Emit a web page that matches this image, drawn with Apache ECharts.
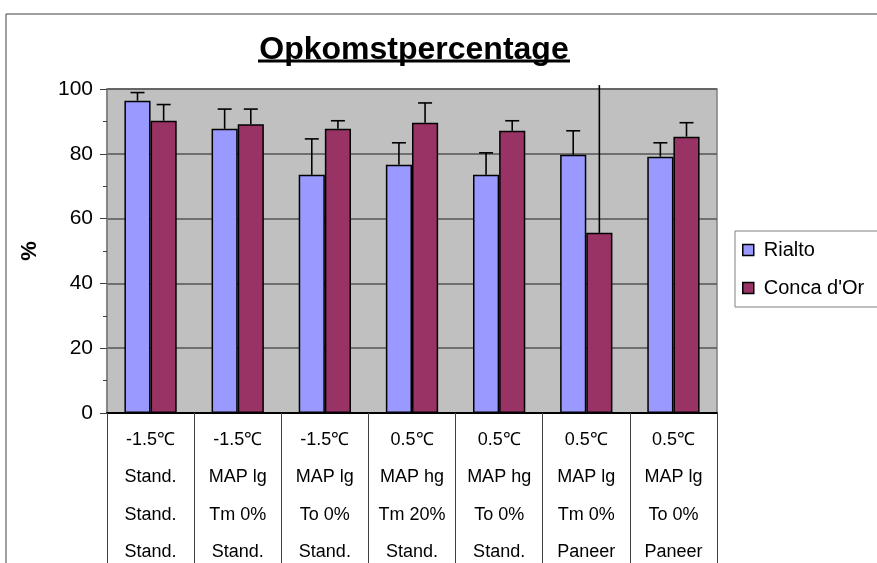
<!DOCTYPE html>
<html>
<head>
<meta charset="utf-8">
<script src="https://cdn.jsdelivr.net/npm/echarts@6/dist/echarts.min.js"></script>
<style>html,body{margin:0;padding:0;background:#fff;}#c{width:877px;height:563px;}</style>
</head>
<body>
<div id="c"></div>
<script>
const categories = [
  "-1.5℃\nStand.\nStand.\nStand.",
  "-1.5℃\nMAP lg\nTm 0%\nStand.",
  "-1.5℃\nMAP lg\nTo 0%\nStand.",
  "0.5℃\nMAP hg\nTm 20%\nStand.",
  "0.5℃\nMAP hg\nTo 0%\nStand.",
  "0.5℃\nMAP lg\nTm 0%\nPaneer",
  "0.5℃\nMAP lg\nTo 0%\nPaneer"
];
const seriesNames = ["Rialto", "Conca d'Or"];
const rialto = [96.4, 87.7, 73.5, 76.6, 73.5, 79.7, 79.1];
const rialtoErr = [2.5, 6.1, 11.1, 6.8, 6.8, 7.4, 4.3];
const conca = [90.2, 89.1, 87.7, 89.6, 87.1, 55.6, 85.3];
const concaErr = [5.0, 4.7, 2.5, 6.1, 3.1, 45.6, 4.3];
const yTicks = { min: 0, max: 100, interval: 20 };

const FONT = "'Liberation Sans', Arial, sans-serif";
const chart = echarts.init(document.getElementById('c'), null, { renderer: 'canvas' });

function errSeries(values, errs, idx) {
  return {
    type: 'custom',
    silent: true,
    z: 5,
    data: values.map((v, i) => [i, v, errs[i]]),
    renderItem: function (params, api) {
      const i = api.value(0), v = api.value(1), e = api.value(2);
      const band = api.size([1, 0])[0];
      const barW = band * 0.6 / 2;
      const cx = api.coord([i, 0])[0] + (idx === 0 ? -barW / 2 : barW / 2);
      const p0 = api.coord([i, v]);
      const p1 = api.coord([i, v + e]);
      const children = [{
        type: 'line',
        shape: { x1: cx, y1: p0[1], x2: cx, y2: p1[1] },
        style: { stroke: '#000', lineWidth: 1.6 }
      }];
      if (v + e <= yTicks.max) {
        children.push({
          type: 'line',
          shape: { x1: cx - 7, y1: p1[1], x2: cx + 7, y2: p1[1] },
          style: { stroke: '#000', lineWidth: 1.6 }
        });
      }
      return { type: 'group', children: children };
    }
  };
}

const option = {
  animation: false,
  backgroundColor: '#fff',
  textStyle: { fontFamily: FONT },
  title: {
    text: 'Opkomstpercentage',
    left: 409,
    textAlign: 'center',
    top: 29,
    textStyle: { fontFamily: FONT, fontSize: 32, fontWeight: 'bold', color: '#000' }
  },
  graphic: [
    { type: 'rect', shape: { x: 6, y: 14, width: 900, height: 600 }, style: { fill: 'none', stroke: '#404040', lineWidth: 1 }, z: -10, silent: true },
    { type: 'rect', shape: { x: 258, y: 59.5, width: 312, height: 3 }, style: { fill: '#000' }, silent: true }
  ],
  legend: {
    orient: 'vertical',
    left: 735,
    top: 231,
    width: 142,
    padding: [9, 20, 9, 7],
    itemGap: 18,
    itemWidth: 11,
    itemHeight: 11,
    backgroundColor: '#fff',
    borderColor: '#808080',
    borderWidth: 1,
    borderRadius: 0,
    icon: 'rect',
    data: seriesNames,
    textStyle: { fontFamily: FONT, fontSize: 20, color: '#000', padding: [0, 0, 0, 5] },
    itemStyle: { borderColor: '#000', borderWidth: 1.5 }
  },
  grid: {
    left: 107, top: 89, right: 160, bottom: 150,
    containLabel: false,
    outerBoundsMode: 'none',
    show: true, backgroundColor: '#C0C0C0', borderColor: '#808080', borderWidth: 1.5
  },
  xAxis: {
    type: 'category',
    data: categories,
    axisLine: { show: true, lineStyle: { color: '#000', width: 2 } },
    axisTick: { show: true, interval: 0, length: 160, lineStyle: { color: '#404040', width: 1 } },
    axisLabel: {
      interval: 0, margin: 8, color: '#000',
      fontFamily: FONT, fontSize: 18, lineHeight: 37.5
    },
    splitLine: { show: false }
  },
  yAxis: {
    type: 'value',
    min: yTicks.min, max: yTicks.max, interval: yTicks.interval,
    name: '%',
    nameLocation: 'middle',
    nameRotate: 90,
    nameGap: 66,
    nameTextStyle: { fontFamily: FONT, fontSize: 22, fontWeight: 'bold', color: '#000' },
    axisLine: { show: true, lineStyle: { color: '#808080', width: 1.5 } },
    axisTick: { show: true, length: 7, lineStyle: { color: '#404040' } },
    minorTick: { show: true, splitNumber: 2, length: 4, lineStyle: { color: '#404040' } },
    axisLabel: { margin: 14, color: '#000', fontFamily: FONT, fontSize: 21 },
    splitLine: { show: true, lineStyle: { color: '#555555', width: 1.5 } }
  },
  series: [
    {
      name: seriesNames[0], type: 'bar', data: rialto,
      barGap: '0%', barCategoryGap: '40%',
      itemStyle: { color: '#9999FF', borderColor: '#000', borderWidth: 1.5 }
    },
    {
      name: seriesNames[1], type: 'bar', data: conca,
      barGap: '0%', barCategoryGap: '40%',
      itemStyle: { color: '#993366', borderColor: '#000', borderWidth: 1.5 }
    },
    errSeries(rialto, rialtoErr, 0),
    errSeries(conca, concaErr, 1)
  ]
};
chart.setOption(option);
</script>
</body>
</html>
